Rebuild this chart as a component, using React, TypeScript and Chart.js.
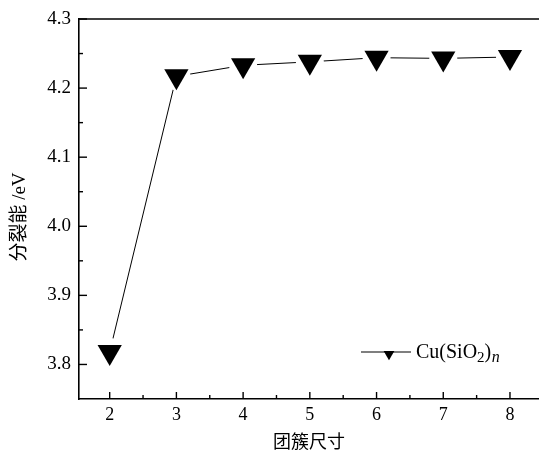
import { useEffect, useRef } from 'react';
import { Chart, registerables } from 'chart.js';

Chart.register(...registerables);

const clusterSizes = [2, 3, 4, 5, 6, 7, 8];
const splitEnergy = [3.818, 4.217, 4.233, 4.238, 4.244, 4.243, 4.245];
const xMajorTicks = [2, 3, 4, 5, 6, 7, 8];
const xMinorTicks = [2.5, 3.5, 4.5, 5.5, 6.5, 7.5];
const yMajorTicks = [3.8, 3.9, 4.0, 4.1, 4.2, 4.3];
const yMinorTicks = [3.85, 3.95, 4.05, 4.15, 4.25];
const legendParts = ['Cu(SiO', '2', ')', 'n'];
const xTitle = '团簇尺寸';
const yTitle = '分裂能 /eV';

const SERIF = "'Liberation Serif', 'DejaVu Serif', serif";

const decorPlugin = {
  id: 'decor',
  afterDraw(chart: any) {
    const { ctx, chartArea, scales } = chart;
    const xs = scales.x;
    const ys = scales.y;
    ctx.save();
    ctx.strokeStyle = '#000';
    ctx.lineWidth = 1.6;
    ctx.beginPath();
    ctx.moveTo(chartArea.left, chartArea.top);
    ctx.lineTo(chartArea.right, chartArea.top);
    ctx.stroke();
    ctx.lineWidth = 1.4;
    const tick = (len: number, vals: number[], horiz: boolean) => {
      vals.forEach((v) => {
        ctx.beginPath();
        if (horiz) {
          const px = xs.getPixelForValue(v);
          ctx.moveTo(px, chartArea.bottom);
          ctx.lineTo(px, chartArea.bottom - len);
        } else {
          const py = ys.getPixelForValue(v);
          ctx.moveTo(chartArea.left, py);
          ctx.lineTo(chartArea.left + len, py);
        }
        ctx.stroke();
      });
    };
    tick(7, xMajorTicks, true);
    tick(4, xMinorTicks, true);
    tick(8, yMajorTicks, false);
    tick(4, yMinorTicks, false);

    // y-axis title
    ctx.save();
    ctx.fillStyle = '#000';
    ctx.font = `19px 'Liberation Serif', 'Noto Sans CJK SC', serif`;
    ctx.textAlign = 'center';
    ctx.textBaseline = 'middle';
    ctx.translate(chartArea.left - 59, (chartArea.top + chartArea.bottom) / 2 + 8);
    ctx.rotate(-Math.PI / 2);
    ctx.fillText(yTitle, 0, 0);
    ctx.restore();

    // legend
    const lx = 361;
    const ly = 352;
    ctx.lineWidth = 1.2;
    ctx.beginPath();
    ctx.moveTo(lx, ly);
    ctx.lineTo(lx + 50, ly);
    ctx.stroke();
    const cx = lx + 28;
    const cy = ly + 2;
    const r = 6.2;
    ctx.fillStyle = '#000';
    ctx.beginPath();
    ctx.moveTo(cx, cy + r);
    ctx.lineTo(cx - r * 0.866, cy - r / 2);
    ctx.lineTo(cx + r * 0.866, cy - r / 2);
    ctx.closePath();
    ctx.fill();

    let tx = lx + 55;
    const base = ly + 5.5;
    ctx.textBaseline = 'alphabetic';
    ctx.textAlign = 'left';
    ctx.font = `20px ${SERIF}`;
    ctx.fillText(legendParts[0], tx, base);
    tx += ctx.measureText(legendParts[0]).width;
    ctx.font = `15px ${SERIF}`;
    ctx.fillText(legendParts[1], tx, base + 4);
    tx += ctx.measureText(legendParts[1]).width;
    ctx.font = `20px ${SERIF}`;
    ctx.fillText(legendParts[2], tx, base);
    tx += ctx.measureText(legendParts[2]).width + 0.5;
    ctx.font = `italic 16px ${SERIF}`;
    ctx.fillText(legendParts[3], tx, base + 4.5);
    ctx.restore();
  },
};

export default function App() {
  const ref = useRef<HTMLCanvasElement>(null);

  useEffect(() => {
    if (!ref.current) return;
    const pts = clusterSizes.map((x, i) => ({ x, y: splitEnergy[i] }));
    const chart = new Chart(ref.current, {
      type: 'scatter',
      data: {
        datasets: [
          {
            label: 'line',
            data: pts,
            showLine: true,
            borderColor: '#000',
            borderWidth: 1,
            pointRadius: 0,
            order: 3,
          },
          {
            label: 'halo',
            data: pts,
            showLine: false,
            pointStyle: 'circle',
            pointRadius: 14,
            backgroundColor: '#fff',
            borderWidth: 0,
            order: 2,
          },
          {
            label: 'Cu(SiO2)n',
            data: pts,
            showLine: false,
            pointStyle: 'triangle',
            rotation: 180,
            pointRadius: 14,
            backgroundColor: '#000',
            borderColor: '#000',
            borderWidth: 0,
            order: 1,
          },
        ] as any,
      },
      options: {
        animation: false,
        responsive: false,
        devicePixelRatio: 1,
        events: [],
        clip: false as any,
        layout: { autoPadding: false, padding: { top: 19, left: 0, right: 0, bottom: 0 } },
        plugins: {
          legend: { display: false },
          tooltip: { enabled: false },
        },
        scales: {
          x: {
            type: 'linear',
            min: 1.54,
            max: 8.435,
            afterBuildTicks: (s: any) => {
              s.ticks = xMajorTicks.map((v) => ({ value: v }));
            },
            afterFit: (s: any) => {
              s.height = 52;
              s.paddingLeft = 0;
              s.paddingRight = 0;
            },
            grid: { display: false, drawTicks: false },
            border: { display: true, color: '#000', width: 1.6 },
            ticks: {
              autoSkip: false,
              maxRotation: 0,
              padding: 5,
              color: '#000',
              font: { family: SERIF, size: 18 },
              callback: (v: any) => String(v),
            },
            title: {
              display: true,
              text: xTitle,
              color: '#000',
              font: { family: "'Noto Sans CJK SC'", size: 18, lineHeight: 1 },
              padding: 1,
            },
          },
          y: {
            type: 'linear',
            min: 3.75,
            max: 4.3,
            afterBuildTicks: (s: any) => {
              s.ticks = yMajorTicks.map((v) => ({ value: v }));
            },
            afterFit: (s: any) => {
              s.width = 79;
              s.paddingTop = 0;
              s.paddingBottom = 0;
            },
            grid: { display: false, drawTicks: false },
            border: { display: true, color: '#000', width: 1.6 },
            ticks: {
              autoSkip: false,
              padding: 8,
              color: '#000',
              font: { family: SERIF, size: 19 },
              callback: (v: any) => Number(v).toFixed(1),
            },
            title: { display: false },
          },
        },
      } as any,
      plugins: [decorPlugin],
    });
    return () => chart.destroy();
  }, []);

  return (
    <div style={{ position: 'absolute', left: 0, top: 0, width: 539, height: 451, background: '#fff' }}>
      <canvas ref={ref} width={539} height={451} style={{ display: 'block' }} />
    </div>
  );
}
